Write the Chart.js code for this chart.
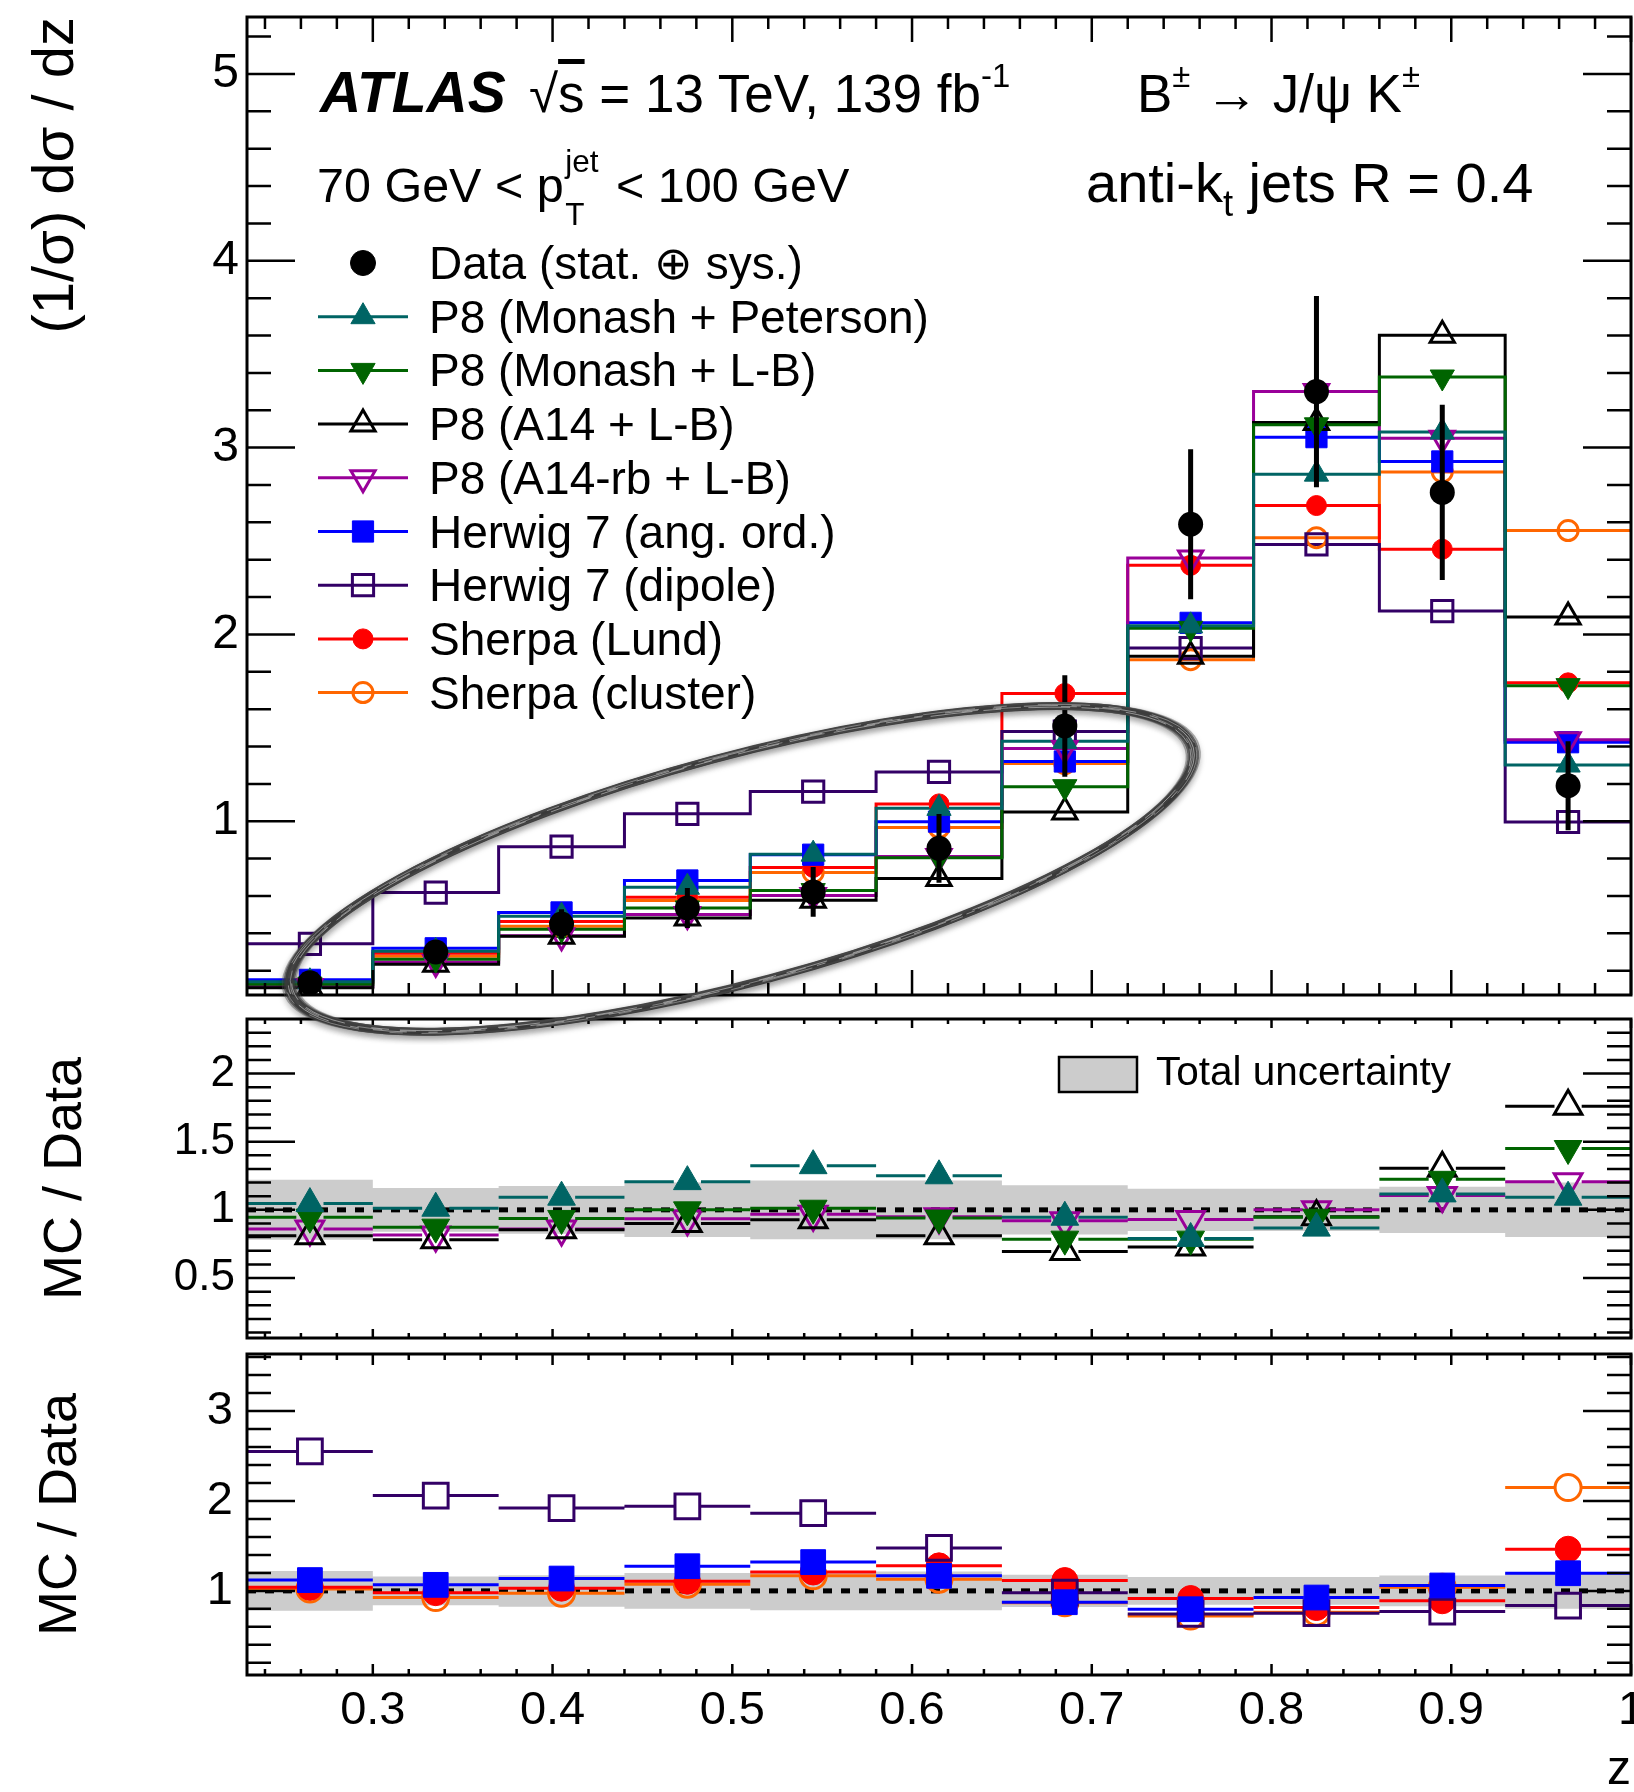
<!DOCTYPE html>
<html lang="en">
<head>
<meta charset="utf-8">
<title>B± → J/ψ K± fragmentation function</title>
<script src="https://cdn.jsdelivr.net/npm/chart.js@4.4.1/dist/chart.umd.min.js"></script>
<style>
  html, body { margin: 0; padding: 0; background: #fff; overflow: hidden; }
  #page { position: relative; width: 1634px; height: 1792px; overflow: hidden;
          font-family: "Liberation Sans", Arial, Helvetica, sans-serif; color: #000; }
  #page canvas { position: absolute; left: 0; }
  .t { position: absolute; white-space: nowrap; line-height: 1; }
  .sup { font-size: 0.62em; position: relative; top: -0.75em; line-height: 0; }
  .sub { font-size: 0.65em; position: relative; top: 0.38em; line-height: 0; }
  .stack { position: relative; display: inline-block; width: 0.8em; height: 0; }
  .stack span { position: absolute; left: 0.05em; font-size: 0.65em; line-height: 1; }
  .ovl { text-decoration: overline; }
</style>
</head>
<body>
<div id="page">
  <canvas id="botPanel" width="1634" height="452" style="top:1340px"></canvas>
  <canvas id="midPanel" width="1634" height="340" style="top:1000px"></canvas>
  <canvas id="mainPanel" width="1634" height="1045" style="top:0"></canvas>

  <div class="t" style="left:320px;top:64px;font-size:57px;font-weight:bold;font-style:italic">ATLAS</div>
  <div class="t" style="left:529px;top:67px;font-size:53px">√<span class="ovl">s</span> = 13 TeV, 139 fb<span class="sup">-1</span></div>
  <div class="t" style="left:1137px;top:67px;font-size:53px">B<span class="sup">±</span> → J/ψ K<span class="sup">±</span></div>
  <div class="t" style="left:317px;top:161px;font-size:48.5px">70 GeV &lt; p<span class="stack"><span style="top:-56px">jet</span><span style="top:-3px">T</span></span> &lt; 100 GeV</div>
  <div class="t" style="left:1086px;top:155px;font-size:56px">anti-k<span class="sub">t</span> jets R = 0.4</div>
  <div class="t" style="left:1156px;top:1051px;font-size:40.5px">Total uncertainty</div>
</div>

<script>
Chart.defaults.font.family = '"Liberation Sans", Arial, Helvetica, sans-serif';
Chart.defaults.color = '#000';

// z bins
const zEdges = [0.23, 0.30, 0.37, 0.44, 0.51, 0.58, 0.65, 0.72, 0.79, 0.86, 0.93, 1.00];

// unfolded data, (1/sigma) dsigma/dz, with relative total uncertainty
const dataVals   = [0.135, 0.30, 0.45, 0.536, 0.622, 0.855, 1.51, 2.59, 3.30, 2.76, 1.19];
const dataRelErr = [0.22, 0.16, 0.175, 0.20, 0.215, 0.215, 0.18, 0.155, 0.155, 0.17, 0.20];

// MC predictions, (1/sigma) dsigma/dz
const p8MonashPeterson = [0.141, 0.304, 0.492, 0.647, 0.824, 1.069, 1.428, 2.046, 2.858, 3.083, 1.301];
const p8MonashLB       = [0.128, 0.262, 0.422, 0.536, 0.629, 0.804, 1.185, 2.033, 3.122, 3.378, 1.726];
const p8A14LB          = [0.109, 0.234, 0.384, 0.482, 0.577, 0.693, 1.049, 1.883, 3.135, 3.602, 2.094];
const p8A14rbLB        = [0.116, 0.245, 0.387, 0.501, 0.602, 0.812, 1.389, 2.409, 3.300, 3.050, 1.436];
const h7Angular        = [0.151, 0.320, 0.512, 0.683, 0.821, 0.998, 1.320, 2.062, 3.056, 2.926, 1.423];
const h7Dipole         = [0.344, 0.618, 0.864, 1.040, 1.159, 1.264, 1.480, 1.927, 2.482, 2.125, 0.996];
const sherpaLund       = [0.140, 0.294, 0.464, 0.593, 0.753, 1.093, 1.684, 2.370, 2.690, 2.456, 1.741];
const sherpaCluster    = [0.138, 0.278, 0.438, 0.576, 0.726, 0.966, 1.309, 1.865, 2.518, 2.870, 2.556];

// MC / Data
const rP8MonashPeterson = [1.046, 1.012, 1.093, 1.207, 1.324, 1.25, 0.946, 0.79, 0.866, 1.117, 1.093];
const rP8MonashLB       = [0.946, 0.873, 0.937, 1.0, 1.012, 0.94, 0.785, 0.785, 0.946, 1.224, 1.45];
const rP8A14LB          = [0.81, 0.78, 0.854, 0.90, 0.927, 0.81, 0.695, 0.727, 0.95, 1.305, 1.76];
const rP8A14rbLB        = [0.86, 0.815, 0.86, 0.934, 0.968, 0.95, 0.92, 0.93, 1.0, 1.105, 1.207];
const rH7Angular        = [1.12, 1.067, 1.137, 1.274, 1.32, 1.167, 0.874, 0.796, 0.926, 1.06, 1.196];
const rH7Dipole         = [2.55, 2.06, 1.92, 1.94, 1.863, 1.478, 0.98, 0.744, 0.752, 0.77, 0.837];
const rSherpaLund       = [1.04, 0.98, 1.03, 1.107, 1.21, 1.278, 1.115, 0.915, 0.815, 0.89, 1.463];
const rSherpaCluster    = [1.02, 0.926, 0.974, 1.074, 1.167, 1.13, 0.867, 0.72, 0.763, 1.04, 2.148];

// axis ticks
const zTicks = [0.3, 0.4, 0.5, 0.6, 0.7, 0.8, 0.9, 1];
const mainYTicks = [1, 2, 3, 4, 5];
const midYTicks = [0.5, 1, 1.5, 2];
const botYTicks = [1, 2, 3];

const mcSeries = [
  { label: 'P8 (Monash + Peterson)', main: p8MonashPeterson, ratio: rP8MonashPeterson, color: '#006464', marker: 'triangle', rot: 0,   open: false },
  { label: 'P8 (Monash + L-B)',      main: p8MonashLB,       ratio: rP8MonashLB,       color: '#006400', marker: 'triangle', rot: 180, open: false },
  { label: 'P8 (A14 + L-B)',         main: p8A14LB,          ratio: rP8A14LB,          color: '#000000', marker: 'triangle', rot: 0,   open: true },
  { label: 'P8 (A14-rb + L-B)',      main: p8A14rbLB,        ratio: rP8A14rbLB,        color: '#990099', marker: 'triangle', rot: 180, open: true },
  { label: 'Herwig 7 (ang. ord.)',   main: h7Angular,        ratio: rH7Angular,        color: '#0000ff', marker: 'rect',     rot: 0,   open: false },
  { label: 'Herwig 7 (dipole)',      main: h7Dipole,         ratio: rH7Dipole,         color: '#330066', marker: 'rect',     rot: 0,   open: true },
  { label: 'Sherpa (Lund)',          main: sherpaLund,       ratio: rSherpaLund,       color: '#ff0000', marker: 'circle',   rot: 0,   open: false },
  { label: 'Sherpa (cluster)',       main: sherpaCluster,    ratio: rSherpaCluster,    color: '#ff6600', marker: 'circle',   rot: 0,   open: true }
];

const mainRadius  = { triangle: 14, rect: 15, circle: 10 };
const ratioRadius = { triangle: 16, rect: 17.5, circle: 13 };
const barGapScale = { triangle: 0.85, rect: 0.72, circle: 1.0 };

const binCentres = zEdges.slice(0, -1).map((lo, i) => (lo + zEdges[i + 1]) / 2);
const atCentres = vals => vals.map((v, i) => ({ x: binCentres[i], y: v }));
const histPoints = vals => vals.map((v, i) => ({ x: zEdges[i], y: v }))
  .concat([{ x: zEdges[zEdges.length - 1], y: vals[vals.length - 1] }]);

function steps(from, to, step) {
  const out = [];
  for (let k = 0; from + k * step <= to + 1e-9; k++) out.push(+(from + k * step).toFixed(6));
  return out;
}

function markerSet(s, vals, radius, withBars) {
  return {
    label: s.label, data: atCentres(vals), order: 1, showLine: false,
    pointStyle: s.marker, pointRotation: s.rot, pointRadius: radius[s.marker],
    pointBackgroundColor: s.open ? 'rgba(0,0,0,0)' : s.color,
    pointBorderColor: s.color, pointBorderWidth: s.open ? 3 : 1,
    binBars: withBars, barGap: radius[s.marker] * barGapScale[s.marker]
  };
}

// ROOT style frame: box plus inward ticks on all four sides
function rootFrame(t) {
  return {
    id: 'rootFrame',
    afterDraw(chart) {
      const { ctx, chartArea: a, scales: { x, y } } = chart;
      ctx.save();
      ctx.strokeStyle = '#000';
      ctx.lineWidth = 2.5;
      ctx.beginPath();
      const xTick = (v, len) => {
        const px = x.getPixelForValue(v);
        ctx.moveTo(px, a.bottom); ctx.lineTo(px, a.bottom - len);
        ctx.moveTo(px, a.top); ctx.lineTo(px, a.top + len);
      };
      const yTick = (v, len) => {
        const py = y.getPixelForValue(v);
        ctx.moveTo(a.left, py); ctx.lineTo(a.left + len, py);
        ctx.moveTo(a.right, py); ctx.lineTo(a.right - len, py);
      };
      steps(0.24, 0.98, 0.02).forEach(v => xTick(v, t.xMinor));
      zTicks.forEach(v => xTick(v, t.xMajor));
      t.yMinorVals.forEach(v => yTick(v, 24));
      t.yMajorVals.forEach(v => yTick(v, 48));
      ctx.stroke();
      ctx.lineWidth = 3;
      ctx.strokeRect(a.left, a.top, a.right - a.left, a.bottom - a.top);
      ctx.restore();
    }
  };
}

// vertical error bars on the data points
const dataErrorBars = {
  id: 'dataErrorBars',
  afterDatasetsDraw(chart) {
    const { ctx, scales: { x, y } } = chart;
    ctx.save();
    ctx.strokeStyle = '#000';
    ctx.lineWidth = 5;
    ctx.beginPath();
    dataVals.forEach((v, i) => {
      const px = x.getPixelForValue(binCentres[i]);
      ctx.moveTo(px, y.getPixelForValue(v * (1 + dataRelErr[i])));
      ctx.lineTo(px, y.getPixelForValue(v * (1 - dataRelErr[i])));
    });
    ctx.stroke();
    ctx.restore();
  }
};

// horizontal bin-width bars for the ratio points, broken around the marker
const binBars = {
  id: 'binBars',
  beforeDatasetDraw(chart, args) {
    const ds = chart.data.datasets[args.index];
    if (!ds.binBars) return;
    const { ctx, chartArea: a, scales: { x, y } } = chart;
    ctx.save();
    ctx.beginPath();
    ctx.rect(a.left, a.top, a.right - a.left, a.bottom - a.top);
    ctx.clip();
    ctx.strokeStyle = ds.pointBorderColor;
    ctx.lineWidth = 3;
    ctx.beginPath();
    ds.data.forEach((p, i) => {
      const py = y.getPixelForValue(p.y);
      const pc = x.getPixelForValue(p.x);
      ctx.moveTo(x.getPixelForValue(zEdges[i]), py);
      ctx.lineTo(pc - ds.barGap, py);
      ctx.moveTo(pc + ds.barGap, py);
      ctx.lineTo(x.getPixelForValue(zEdges[i + 1]), py);
    });
    ctx.stroke();
    ctx.restore();
  }
};

function drawMarker(ctx, style, radius, rotation, color, open, cx, cy) {
  ctx.fillStyle = open ? 'rgba(0,0,0,0)' : color;
  ctx.strokeStyle = color;
  ctx.lineWidth = open ? 3 : 1;
  Chart.helpers.drawPoint(ctx, { pointStyle: style, radius, rotation, borderWidth: ctx.lineWidth }, cx, cy);
}

// legend of the upper panel
const legendTop = 263, legendStep = 53.7;
const legendLine = [318, 408], legendMarkX = 363, legendTextX = 429;
const legendKey = {
  id: 'legendKey',
  afterDatasetsDraw(chart) {
    const ctx = chart.ctx;
    ctx.save();
    drawMarker(ctx, 'circle', 12.5, 0, '#000', false, legendMarkX, legendTop);
    mcSeries.forEach((s, i) => {
      const y = legendTop + (i + 1) * legendStep;
      ctx.strokeStyle = s.color;
      ctx.lineWidth = 3;
      ctx.beginPath();
      ctx.moveTo(legendLine[0], y);
      ctx.lineTo(legendLine[1], y);
      ctx.stroke();
      drawMarker(ctx, s.marker, mainRadius[s.marker], s.rot, s.color, s.open, legendMarkX, y);
    });
    ctx.restore();
  }
};

// hand-drawn ellipse around the low-z bins
const circled = { x: 0.505, y: 0.745, rx: 467, ry: 113, tilt: -15 };
// [extra rx, extra ry, width, colour]
const brushStrokes = [
  [0, 0, 8, 'rgba(68,68,68,0.92)'],
  [4, 1.5, 4, 'rgba(62,62,62,0.75)'],
  [-4, -1.5, 4, 'rgba(62,62,62,0.75)'],
  [7, 2.5, 1.5, 'rgba(80,80,80,0.45)'],
  [-7, -2.5, 1.5, 'rgba(80,80,80,0.45)']
];
// light streaks through the brush: [extra rx, extra ry, width, dash]
const brushStreaks = [
  [1, 0.5, 1, [34, 14, 9, 22]],
  [-2.5, -1, 1, [18, 27, 42, 11]],
  [3.5, 1.5, 0.8, [52, 19, 13, 31]],
  [-1, -0.3, 0.8, [25, 40, 16, 18]]
];
const circledRegion = {
  id: 'circledRegion',
  afterDraw(chart) {
    const { ctx, scales: { x, y } } = chart;
    const cx = x.getPixelForValue(circled.x), cy = y.getPixelForValue(circled.y);
    const tilt = circled.tilt * Math.PI / 180;
    const ring = (drx, dry) => {
      ctx.beginPath();
      ctx.ellipse(cx, cy, circled.rx + drx, circled.ry + dry, tilt, 0, 2 * Math.PI);
    };
    ctx.save();
    ctx.shadowColor = 'rgba(0,0,0,0.3)';
    ctx.shadowBlur = 7;
    ctx.shadowOffsetY = 3;
    brushStrokes.forEach(([drx, dry, lw, col]) => {
      ring(drx, dry);
      ctx.strokeStyle = col;
      ctx.lineWidth = lw;
      ctx.stroke();
    });
    ctx.shadowColor = 'rgba(0,0,0,0)';
    ctx.strokeStyle = 'rgba(255,255,255,0.45)';
    brushStreaks.forEach(([drx, dry, lw, dash]) => {
      ring(drx, dry);
      ctx.setLineDash(dash);
      ctx.lineWidth = lw;
      ctx.stroke();
    });
    ctx.restore();
  }
};

// legend box for the uncertainty band
const uncertaintyKey = {
  id: 'uncertaintyKey',
  afterDatasetsDraw(chart) {
    const ctx = chart.ctx;
    ctx.save();
    ctx.fillStyle = '#cccccc';
    ctx.fillRect(1059, 57, 78, 35);
    ctx.strokeStyle = '#000';
    ctx.lineWidth = 2.5;
    ctx.strokeRect(1059, 57, 78, 35);
    ctx.restore();
  }
};

const axisLeft = 247;

function zAxis(showLabels, height) {
  return {
    type: 'linear', min: zEdges[0], max: zEdges[zEdges.length - 1], offset: false,
    grid: { display: false, drawTicks: false }, border: { display: false },
    afterBuildTicks: s => { s.ticks = zTicks.map(v => ({ value: v })); },
    ticks: { display: showLabels, autoSkip: false, minRotation: 0, maxRotation: 0, padding: 8,
             font: { size: 47 }, callback: v => String(v) },
    title: { display: showLabels, text: 'z', align: 'end', font: { size: 48, lineHeight: 0.9 }, padding: 0 },
    afterFit: s => { s.height = height; s.paddingLeft = 0; s.paddingRight = 0; }
  };
}

function valueAxis(min, max, majors, size, pad, title, titleSize, titlePad, align) {
  return {
    type: 'linear', min, max,
    grid: { display: false, drawTicks: false }, border: { display: false },
    afterBuildTicks: s => { s.ticks = majors.map(v => ({ value: v })); },
    ticks: { autoSkip: false, padding: pad, font: { size }, callback: v => String(v) },
    title: { display: true, text: title, align, font: { size: titleSize }, padding: { top: titlePad, bottom: 0 } },
    afterFit: s => { s.width = axisLeft; s.paddingTop = 0; s.paddingBottom = 0; }
  };
}

const baseOptions = {
  responsive: false, animation: false, events: [],
  plugins: { legend: { display: false }, tooltip: { enabled: false } }
};

// upper panel
const mainDatasets = [{
  label: 'Data (stat. ⊕ sys.)', data: atCentres(dataVals), order: 0, showLine: false,
  pointStyle: 'circle', pointRadius: 12.5, pointBackgroundColor: '#000', pointBorderColor: '#000', pointBorderWidth: 0
}];
mcSeries.forEach(s => mainDatasets.push(markerSet(s, s.main, mainRadius, false)));
mcSeries.forEach(s => mainDatasets.push({
  type: 'line', label: s.label, data: histPoints(s.main), stepped: 'before',
  borderColor: s.color, borderWidth: 3, pointRadius: 0, fill: false, order: 2
}));

new Chart(document.getElementById('mainPanel'), {
  type: 'scatter',
  data: { datasets: mainDatasets },
  options: Object.assign({}, baseOptions, {
    layout: { autoPadding: false, padding: { left: 0, right: 3, top: 17, bottom: 50 } },
    scales: {
      x: zAxis(false, 0),
      y: valueAxis(0.07, 5.305, mainYTicks, 48, 8, '(1/σ) dσ / dz', 58, 22, 'end')
    }
  }),
  plugins: [dataErrorBars, legendKey, rootFrame({ xMajor: 25, xMinor: 12, yMajorVals: mainYTicks, yMinorVals: steps(0.2, 5.2, 0.2) }), circledRegion]
});

// ratio panels
function ratioDatasets(list) {
  const ds = list.map(s => markerSet(s, s.ratio, ratioRadius, true));
  ds.push({
    type: 'line', label: 'unity', data: [{ x: zEdges[0], y: 1 }, { x: zEdges[zEdges.length - 1], y: 1 }],
    borderColor: '#000', borderWidth: 5, borderDash: [9, 9], pointRadius: 0, fill: false, order: 2
  });
  ds.push({
    type: 'line', label: 'band up', data: histPoints(dataRelErr.map(e => 1 + e)), stepped: 'before',
    borderColor: 'rgba(0,0,0,0)', borderWidth: 0, pointRadius: 0, fill: false, order: 3
  });
  ds.push({
    type: 'line', label: 'Total uncertainty', data: histPoints(dataRelErr.map(e => 1 - e)), stepped: 'before',
    borderColor: 'rgba(0,0,0,0)', borderWidth: 0, pointRadius: 0, fill: '-1', backgroundColor: '#cccccc', order: 3
  });
  return ds;
}

new Chart(document.getElementById('midPanel'), {
  type: 'scatter',
  data: { datasets: ratioDatasets(mcSeries.slice(0, 4)) },
  options: Object.assign({}, baseOptions, {
    layout: { autoPadding: false, padding: { left: 0, right: 3, top: 19, bottom: 2 } },
    scales: {
      x: zAxis(false, 0),
      y: valueAxis(0.06, 2.4, midYTicks, 44, 12, 'MC / Data', 54, 34, 'center')
    }
  }),
  plugins: [binBars, uncertaintyKey, rootFrame({ xMajor: 9, xMinor: 5, yMajorVals: midYTicks, yMinorVals: steps(0.1, 2.3, 0.1) })]
});

new Chart(document.getElementById('botPanel'), {
  type: 'scatter',
  data: { datasets: ratioDatasets(mcSeries.slice(4)) },
  options: Object.assign({}, baseOptions, {
    layout: { autoPadding: false, padding: { left: 0, right: 3, top: 14, bottom: 0 } },
    scales: {
      x: zAxis(true, 117),
      y: valueAxis(0.065, 3.633, botYTicks, 47, 14, 'MC / Data', 54, 29, 'center')
    }
  }),
  plugins: [binBars, rootFrame({ xMajor: 11, xMinor: 6, yMajorVals: botYTicks, yMinorVals: steps(0.2, 3.6, 0.2) })]
});

// legend labels of the upper panel
const page = document.getElementById('page');
['Data (stat. ⊕ sys.)'].concat(mcSeries.map(s => s.label)).forEach((label, i) => {
  const d = document.createElement('div');
  d.className = 't';
  d.style.cssText = `left:${legendTextX}px;top:${(legendTop + i * legendStep - 23).toFixed(1)}px;font-size:46px`;
  d.textContent = label;
  page.appendChild(d);
});
</script>
</body>
</html>
